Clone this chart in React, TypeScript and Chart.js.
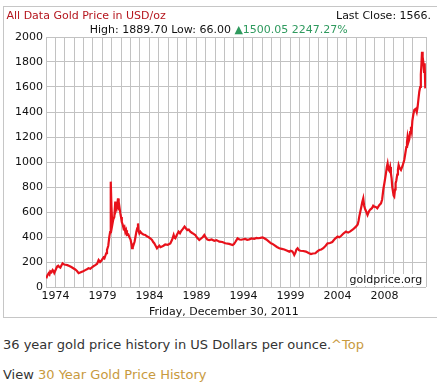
import React, { useEffect, useRef } from 'react';
import { Chart, registerables } from 'chart.js';

Chart.register(...registerables);

// Gold price (USD/oz), position in decimal years
const years = [
  1973.03, 1973.15, 1973.27, 1973.36, 1973.44, 1973.56, 1973.68, 1973.78, 1973.85, 1973.95,
  1974.06, 1974.16, 1974.26, 1974.36, 1974.47, 1974.58, 1974.7, 1974.8, 1974.88, 1975.0,
  1975.19, 1975.4, 1975.6, 1975.8, 1976.0, 1976.18, 1976.35, 1976.5, 1976.62, 1976.82,
  1977.03, 1977.2, 1977.37, 1977.55, 1977.75, 1977.9, 1978.06, 1978.25, 1978.4, 1978.55,
  1978.67, 1978.8, 1978.91, 1979.0, 1979.09, 1979.18, 1979.26, 1979.39, 1979.5, 1979.58,
  1979.62, 1979.67, 1979.72, 1979.8, 1979.9, 1980.01, 1980.11, 1980.2, 1980.29, 1980.39,
  1980.46, 1980.52, 1980.63, 1980.7, 1980.78, 1980.87, 1980.96, 1981.05, 1981.14, 1981.22,
  1981.31, 1981.45, 1981.55, 1981.68, 1981.78, 1981.83, 1981.9, 1981.96, 1982.09, 1982.18,
  1982.27, 1982.36, 1982.44, 1982.5, 1982.58, 1982.68, 1982.8, 1982.99, 1983.19, 1983.35,
  1983.5, 1983.7, 1983.88, 1984.0, 1984.11, 1984.25, 1984.39, 1984.5, 1984.63, 1984.75,
  1984.9, 1985.05, 1985.24, 1985.5, 1985.76, 1985.95, 1986.1, 1986.18, 1986.27, 1986.45,
  1986.61, 1986.75, 1986.89, 1987.05, 1987.22, 1987.35, 1987.5, 1987.65, 1987.81, 1988.0,
  1988.15, 1988.32, 1988.5, 1988.73, 1988.95, 1989.1, 1989.25, 1989.4, 1989.56, 1989.76,
  1990.0, 1990.27, 1990.5, 1990.79, 1991.1, 1991.4, 1991.8, 1992.15, 1992.3, 1992.43,
  1992.55, 1992.66, 1992.85, 1993.04, 1993.25, 1993.45, 1993.65, 1993.86, 1994.1, 1994.38,
  1994.6, 1994.79, 1995.0, 1995.23, 1995.4, 1995.61, 1995.85, 1996.09, 1996.25, 1996.43,
  1996.7, 1996.94, 1997.2, 1997.46, 1997.7, 1997.97, 1998.1, 1998.28, 1998.4, 1998.48,
  1998.6, 1998.7, 1998.82, 1998.95, 1999.1, 1999.4, 1999.68, 1999.95, 2000.2, 2000.4,
  2000.64, 2000.85, 2001.05, 2001.25, 2001.46, 2001.7, 2001.9, 2002.15, 2002.38, 2002.65,
  2002.93, 2003.1, 2003.3, 2003.55, 2003.79, 2004.0, 2004.23, 2004.5, 2004.81, 2004.99,
  2005.08, 2005.15, 2005.25, 2005.36, 2005.46, 2005.56, 2005.65, 2005.77, 2005.88, 2006.0,
  2006.15, 2006.28, 2006.45, 2006.58, 2006.69, 2006.85, 2007.0, 2007.2, 2007.38, 2007.5,
  2007.62, 2007.75, 2007.89, 2007.98, 2008.06, 2008.15, 2008.23, 2008.32, 2008.4, 2008.47,
  2008.54, 2008.62, 2008.68, 2008.74, 2008.82, 2008.88, 2008.95, 2009.05, 2009.12, 2009.19,
  2009.3, 2009.43, 2009.6, 2009.77, 2009.88, 2009.98, 2010.05, 2010.11, 2010.2, 2010.28,
  2010.37, 2010.46, 2010.53, 2010.6, 2010.7, 2010.8, 2010.95, 2011.05, 2011.14, 2011.22,
  2011.31, 2011.4, 2011.47, 2011.53, 2011.59, 2011.63, 2011.68, 2011.72, 2011.8, 2011.86,
  2011.93,
];
const prices = [
  70, 95, 110, 100, 125, 118, 136, 125, 112, 130,
  150, 165, 170, 160, 155, 172, 189, 183, 180, 178,
  175, 168, 160, 150, 140, 128, 110, 115, 120, 126,
  135, 142, 150, 146, 160, 168, 175, 186, 216, 200,
  210, 225, 237, 230, 250, 270, 296, 330, 403, 440,
  520, 843, 640, 496, 540, 560, 683, 620, 643, 709,
  640, 650, 589, 560, 520, 500, 469, 480, 440, 455,
  416, 420, 400, 380, 340, 310, 335, 330, 362, 400,
  440, 470, 509, 450, 430, 443, 430, 420, 416, 405,
  400, 390, 376, 360, 350, 330, 310, 320, 330, 318,
  323, 330, 340, 338, 349, 380, 416, 395, 390, 420,
  443, 430, 450, 465, 483, 470, 455, 460, 443, 432,
  425, 416, 395, 376, 390, 400, 416, 395, 380, 376,
  380, 370, 375, 363, 360, 350, 345, 336, 345, 360,
  375, 389, 380, 378, 382, 385, 378, 381, 388, 385,
  392, 390, 393, 397, 390, 380, 365, 349, 345, 335,
  320, 310, 305, 300, 292, 283, 290, 285, 270, 256,
  275, 300, 310, 295, 290, 288, 283, 272, 264, 268,
  270, 285, 296, 300, 310, 330, 349, 352, 360, 385,
  403, 398, 410, 430, 443, 435, 445, 460, 483, 500,
  530, 563, 600, 640, 680, 709, 650, 620, 600, 576,
  605, 620, 630, 650, 643, 640, 630, 655, 669, 700,
  780, 840, 909, 960, 989, 940, 930, 960, 909, 870,
  800, 760, 730, 723, 780, 830, 850, 900, 940, 976,
  950, 936, 970, 1016, 1070, 1120, 1160, 1202, 1160, 1180,
  1240, 1282, 1250, 1330, 1380, 1416, 1425, 1400, 1442, 1500,
  1562, 1600, 1700, 1780, 1882, 1790, 1840, 1802, 1720, 1790,
  1589,
];

const xTickLabels = ['1974', '1979', '1984', '1989', '1994', '1999', '2004', '2008'];
const X_START = 1973; // axis origin (year)
const X_SPAN = 39; // years shown
const GRID_STEP = 0.9647; // years between vertical grid lines

const FONT = 'DejaVu Sans';
const GRID_COLOR = '#c2c2c2';

export default function App() {
  const ref = useRef<HTMLCanvasElement | null>(null);

  useEffect(() => {
    if (!ref.current) return;
    const chart = new Chart(ref.current, {
      type: 'line',
      data: {
        datasets: [
          {
            data: years.map((yr, i) => ({ x: yr - X_START, y: prices[i] })),
            borderColor: '#e8111b',
            borderWidth: 2.2,
            pointRadius: 0,
            tension: 0,
            fill: false,
          },
        ],
      },
      options: {
        animation: false,
        responsive: false,
        layout: { padding: { left: 0, right: 11, top: 37, bottom: 13 } },
        plugins: { legend: { display: false }, tooltip: { enabled: false } },
        scales: {
          x: {
            type: 'linear',
            min: 0,
            max: X_SPAN,
            afterFit: (scale: any) => {
              scale.height = 20;
            },
            grid: { color: GRID_COLOR, drawTicks: false },
            border: { display: false },
            ticks: {
              stepSize: GRID_STEP,
              autoSkip: false,
              maxRotation: 0,
              padding: 3,
              color: '#111',
              font: { family: FONT, size: 11 },
              callback: (_v: any, index: number) =>
                index % 5 === 1 && (index - 1) / 5 < xTickLabels.length ? xTickLabels[(index - 1) / 5] : '',
            },
          },
          y: {
            min: 0,
            max: 2000,
            afterFit: (scale: any) => {
              scale.width = 46;
            },
            grid: { color: GRID_COLOR, drawTicks: false },
            border: { color: GRID_COLOR },
            ticks: {
              stepSize: 200,
              padding: 3,
              color: '#111',
              font: { family: FONT, size: 11 },
              callback: (v: any) => String(v),
            },
          },
        },
      },
    });
    return () => chart.destroy();
  }, []);

  const abs = (o: React.CSSProperties): React.CSSProperties => ({
    position: 'absolute',
    whiteSpace: 'nowrap',
    margin: 0,
    ...o,
  });

  const chartText: React.CSSProperties = { fontFamily: FONT, fontSize: 11, lineHeight: '13px' };
  const pageText: React.CSSProperties = { fontFamily: FONT, fontSize: 13, lineHeight: '16px', color: '#333' };
  const tan = '#c89a3e';

  return (
    <div
      style={{
        position: 'absolute',
        left: 0,
        top: 0,
        width: 437,
        height: 386,
        overflow: 'hidden',
        background: '#fff',
      }}
    >
      <div style={abs({ left: 3, top: 6, width: 460, height: 310, border: '1px solid #c6c6c6' })} />
      <canvas ref={ref} width={437} height={320} style={abs({ left: 0, top: 0, width: 437, height: 320 })} />
      <div style={abs({ ...chartText, left: 6.5, top: 9.2, color: '#b5161e' })}>All Data Gold Price in USD/oz</div>
      <div style={abs({ ...chartText, left: 336, top: 9.2, color: '#111' })}>Last Close: 1566.</div>
      <div style={abs({ ...chartText, left: 89.7, top: 23.4, color: '#111' })}>
        High: 1889.70 Low: 66.00 <span style={{ color: '#2f9a5e' }}>▲1500.05 2247.27%</span>
      </div>
      <div style={abs({ ...chartText, left: 347, top: 274, width: 78, height: 12, background: '#fff' })} />
      <div style={abs({ ...chartText, left: 349.5, top: 273, color: '#111' })}>goldprice.org</div>
      <div style={abs({ ...chartText, left: 149, top: 304.9, color: '#111' })}>Friday, December 30, 2011</div>
      <div style={abs({ ...pageText, left: 3, top: 337.3 })}>
        36 year gold price history in US Dollars per ounce.<span style={{ color: tan }}>^Top</span>
      </div>
      <div style={abs({ ...pageText, left: 3, top: 366.8 })}>
        View <span style={{ color: tan }}>30 Year Gold Price History</span>
      </div>
    </div>
  );
}
